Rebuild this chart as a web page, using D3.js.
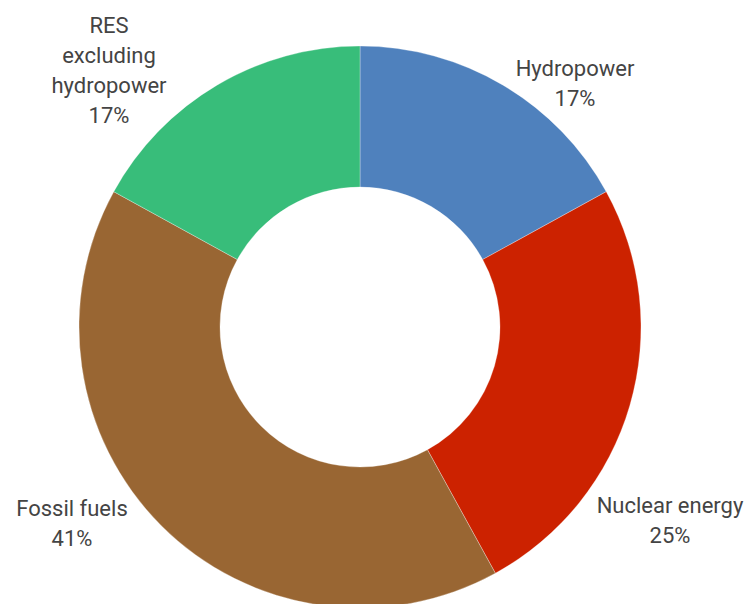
<!DOCTYPE html>
<html>
<head>
<meta charset="utf-8">
<script src="https://cdn.jsdelivr.net/npm/d3@7"></script>
<style>
  html, body { margin: 0; padding: 0; background: #fff; }
  svg { display: block; }
</style>
</head>
<body>
<svg id="chart" width="748" height="604"></svg>
<script>
const categories = ['Hydropower', 'Nuclear energy', 'Fossil fuels', 'RES excluding hydropower'];
const shares = [17, 25, 41, 17];
const colors = ['#4f81bd', '#cc2200', '#996633', '#38bd7a'];
const labelLines = [['Hydropower'], ['Nuclear energy'], ['Fossil fuels'], ['RES', 'excluding', 'hydropower']];

const width = 748, height = 604;
const cx = 360, cy = 327;
const outerR = 281, innerR = 140;

// label anchors (top line baseline), placed by hand around the ring
const labelPos = [[575, 76], [670, 513], [72, 516], [109, 33]];

const svg = d3.select('#chart');
const g = svg.append('g').attr('transform', `translate(${cx},${cy})`);

const pie = d3.pie().sort(null).value(d => d.value);
const arc = d3.arc().innerRadius(innerR).outerRadius(outerR);

const data = categories.map((c, i) => ({ name: c, value: shares[i], color: colors[i], lines: labelLines[i], pos: labelPos[i] }));
const arcs = pie(data);

g.selectAll('path')
    .data(arcs)
    .enter().append('path')
    .attr('d', arc)
    .attr('fill', d => d.data.color)
    .attr('stroke', '#ffffff')
    .attr('stroke-width', 0.5)
    .attr('stroke-opacity', 0.6);

const total = d3.sum(shares);
const labels = svg.append('g')
    .attr('font-family', 'Roboto, sans-serif')
    .attr('font-size', 22)
    .attr('fill', '#444444')
    .attr('text-anchor', 'middle');

arcs.forEach(a => {
    const t = labels.append('text')
        .attr('x', a.data.pos[0])
        .attr('y', a.data.pos[1]);
    const lines = a.data.lines.concat([Math.round(a.data.value / total * 100) + '%']);
    lines.forEach((l, i) => {
        t.append('tspan')
            .attr('x', a.data.pos[0])
            .attr('dy', i === 0 ? 0 : 30)
            .text(l);
    });
});
</script>
</body>
</html>
